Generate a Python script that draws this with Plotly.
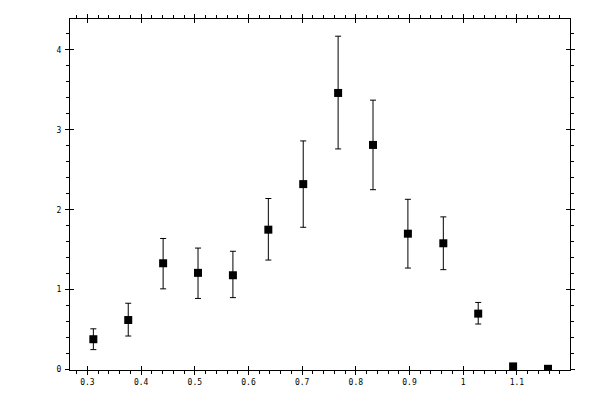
import plotly.graph_objects as go

x_vals = [0.311, 0.376, 0.441, 0.506, 0.571, 0.637, 0.702, 0.767, 0.832, 0.897, 0.963, 1.028, 1.093, 1.158]
y_vals = [0.38, 0.62, 1.33, 1.21, 1.18, 1.75, 2.32, 3.46, 2.81, 1.70, 1.58, 0.70, 0.04, 0.01]
err_up = [0.13, 0.21, 0.31, 0.31, 0.30, 0.39, 0.54, 0.71, 0.56, 0.43, 0.33, 0.14, 0.0, 0.0]
err_down = [0.13, 0.20, 0.32, 0.32, 0.28, 0.38, 0.54, 0.70, 0.56, 0.43, 0.33, 0.13, 0.0, 0.0]

x_range = [0.2675, 1.199]
y_range = [-0.005, 4.385]

fig = go.Figure()

fig.add_trace(go.Scatter(
    x=x_vals,
    y=y_vals,
    mode="markers",
    marker=dict(symbol="square", size=8, color="black"),
    error_y=dict(
        type="data",
        symmetric=False,
        array=err_up,
        arrayminus=err_down,
        color="black",
        thickness=1,
        width=3,
    ),
    showlegend=False,
))

# empty trace so the overlay axes (inward half of major ticks) get drawn
fig.add_trace(go.Scatter(x=[None], y=[None], xaxis="x2", yaxis="y2", showlegend=False))

font = dict(family="DejaVu Sans Mono", size=8, color="black")

# page body has an 8px margin, so margins are shifted to compensate
fig.update_layout(
    width=600,
    height=400,
    margin=dict(l=62, r=38, t=11, b=38, autoexpand=False),
    paper_bgcolor="white",
    plot_bgcolor="white",
    font=font,
    xaxis=dict(
        range=x_range,
        dtick=0.1,
        tick0=0,
        ticks="outside",
        ticklen=4,
        tickwidth=1,
        tickcolor="black",
        minor=dict(dtick=0.02, tick0=0, ticks="outside", ticklen=3, tickcolor="black"),
        showline=True,
        linecolor="black",
        linewidth=1,
        mirror="ticks",
        showgrid=False,
        zeroline=False,
        tickfont=font,
    ),
    yaxis=dict(
        range=y_range,
        dtick=1,
        tick0=0,
        ticks="outside",
        ticklen=4,
        tickwidth=1,
        tickcolor="black",
        minor=dict(dtick=0.2, tick0=0, ticks="outside", ticklen=3, tickcolor="black"),
        showline=True,
        linecolor="black",
        linewidth=1,
        mirror="ticks",
        showgrid=False,
        zeroline=False,
        tickfont=font,
        ticklabelstandoff=2,
    ),
    xaxis2=dict(
        range=x_range,
        overlaying="x",
        anchor="y2",
        dtick=0.1,
        tick0=0,
        ticks="inside",
        ticklen=4,
        tickcolor="black",
        showticklabels=False,
        mirror="ticks",
        showline=False,
        showgrid=False,
        zeroline=False,
    ),
    yaxis2=dict(
        range=y_range,
        overlaying="y",
        anchor="x2",
        dtick=1,
        tick0=0,
        ticks="inside",
        ticklen=4,
        tickcolor="black",
        showticklabels=False,
        mirror="ticks",
        showline=False,
        showgrid=False,
        zeroline=False,
    ),
)

fig.write_html("out.html")
